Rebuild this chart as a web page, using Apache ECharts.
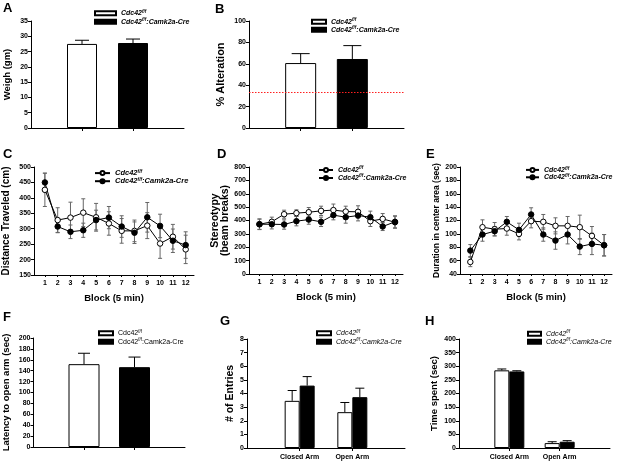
<!DOCTYPE html>
<html>
<head>
<meta charset="utf-8">
<script src="https://cdn.jsdelivr.net/npm/echarts@6/dist/echarts.min.js"></script>
<style>html,body{margin:0;padding:0;background:#fff}#c{width:617px;height:463px}</style>
</head>
<body>
<div id="c"></div>
<script>
// ---------------- DATA ----------------
const groups = ['Cdc42f/f', 'Cdc42f/f:Camk2a-Cre'];
// A: body weight
const weightMean = [27.5, 27.8];
const weightSem = [1.2, 1.3];
const weightTicks = [0, 35, 5];
// B: spontaneous alternation
const alterationMean = [60.7, 64.5];
const alterationSem = [8.8, 12.5];
const alterationTicks = [0, 100, 20];
const chanceLevel = 33.3;
// C-E: open field by block
const blocks = [1, 2, 3, 4, 5, 6, 7, 8, 9, 10, 11, 12];
const distanceWT = [426, 328, 336, 352, 337, 317, 293, 293, 310, 252, 274, 233];
const distanceWTSem = [54, 40, 50, 45, 45, 38, 40, 35, 42, 48, 40, 46];
const distanceKO = [450, 307, 290, 295, 328, 336, 307, 287, 337, 309, 261, 247];
const distanceKOSem = [30, 20, 22, 23, 32, 36, 35, 35, 48, 38, 38, 43];
const distanceTicks = [150, 500, 50];
const stereoWT = [372, 390, 447, 455, 462, 472, 478, 467, 465, 395, 412, 387];
const stereoWTSem = [38, 35, 30, 25, 35, 35, 45, 40, 45, 40, 40, 45];
const stereoKO = [372, 372, 370, 395, 407, 390, 440, 425, 437, 425, 355, 390];
const stereoKOSem = [40, 35, 35, 35, 35, 35, 35, 45, 40, 45, 30, 45];
const stereoTicks = [0, 800, 100];
const centerWT = [58, 110, 107, 108, 100, 119, 118, 112, 112, 110, 97, 83];
const centerWTSem = [7, 11, 10, 10, 9, 10, 11, 12, 14, 18, 14, 16];
const centerKO = [75, 99, 104, 118, 106, 129, 99, 90, 99, 81, 85, 83];
const centerKOSem = [9, 10, 7, 8, 10, 10, 10, 13, 14, 12, 16, 16];
const centerTicks = [40, 200, 20];
// F: latency to open arm
const latencyMean = [152, 146.5];
const latencySem = [20, 18.5];
const latencyTicks = [0, 200, 20];
// G, H: elevated plus maze
const arms = ['Closed Arm', 'Open Arm'];
const entriesWT = [3.46, 2.63];
const entriesWTSem = [0.76, 0.71];
const entriesKO = [4.58, 3.73];
const entriesKOSem = [0.66, 0.66];
const entriesTicks = [0, 8, 1];
const timeWT = [285, 18];
const timeWTSem = [5, 5];
const timeKO = [281, 23];
const timeKOSem = [2.5, 4];
const timeTicks = [0, 400, 50];

// ---------------- HELPERS ----------------
const FONT = "'Liberation Sans', Arial, sans-serif";
const BLACK = '#000';

const grids = [
  {left: 31, top: 21, width: 153, height: 107},   // A
  {left: 249, top: 21, width: 155, height: 107},  // B
  {left: 30, top: 167, width: 164, height: 108},  // C
  {left: 249, top: 167, width: 154, height: 107}, // D
  {left: 460, top: 167, width: 152, height: 107}, // E
  {left: 32, top: 338, width: 153, height: 109},  // F
  {left: 247, top: 339, width: 158, height: 109}, // G
  {left: 459, top: 339, width: 151, height: 109}  // H
];

function yAxis(gi, t, name, gap, size, lh) {
  return {
    type: 'value', gridIndex: gi, min: t[0], max: t[1], interval: t[2],
    name: name, nameLocation: 'middle', nameGap: gap, nameRotate: 90,
    nameTextStyle: {fontFamily: FONT, fontWeight: 'bold', fontSize: size, color: BLACK, lineHeight: lh || size + 1},
    axisLine: {show: true, lineStyle: {color: BLACK, width: 1}},
    axisTick: {show: true, length: 3, lineStyle: {color: BLACK}},
    splitLine: {show: false},
    axisLabel: {fontFamily: FONT, fontWeight: 'bold', fontSize: 7, color: BLACK, margin: 3}
  };
}
function catAxis(gi, cats, showLabels) {
  return {
    type: 'category', gridIndex: gi, data: [''].concat(cats, ['']), boundaryGap: false,
    axisLine: {show: true, onZero: false, lineStyle: {color: BLACK, width: 1}},
    axisTick: {show: true, length: 3, interval: function (i) { return i > 0 && i <= cats.length; }, lineStyle: {color: BLACK}},
    axisLabel: {show: showLabels, interval: 0, fontFamily: FONT, fontWeight: 'bold', fontSize: 7, color: BLACK, margin: 6},
    splitLine: {show: false}
  };
}
function blockAxis(gi) {
  return {
    type: 'value', gridIndex: gi, min: 0.15, max: 12.65,
    name: 'Block (5 min)', nameLocation: 'middle', nameGap: 18,
    nameTextStyle: {fontFamily: FONT, fontWeight: 'bold', fontSize: 9.5, color: BLACK},
    axisLine: {show: true, onZero: false, lineStyle: {color: BLACK, width: 1}},
    axisTick: {show: true, length: 2, customValues: blocks, lineStyle: {color: BLACK}},
    axisLabel: {customValues: blocks, fontFamily: FONT, fontWeight: 'bold', fontSize: 7, color: BLACK, margin: 5},
    splitLine: {show: false}
  };
}
function slot(values) { // values placed at category slots 1..n, blanks at ends
  const out = ['-'];
  values.forEach(function (v) { out.push(v); });
  out.push('-');
  return out;
}
function single(v, idx) { const out = ['-', '-', '-', '-']; out[idx] = v; return out; }

function bar(gi, name, data, fill, width, gap, extra) {
  return Object.assign({
    type: 'bar', name: name, xAxisIndex: gi, yAxisIndex: gi, data: data,
    barWidth: width, barGap: gap, silent: true, z: 3,
    itemStyle: {color: fill, borderColor: BLACK, borderWidth: 1}
  }, extra || {});
}
function errBars(gi, points, offset, cap, color, both) {
  return {
    type: 'custom', xAxisIndex: gi, yAxisIndex: gi, data: points, silent: true, z: both ? 2 : 4,
    encode: {x: 0, y: [1, 2]},
    renderItem: function (params, api) {
      const x = api.value(0);
      const a = api.coord([x, api.value(1)]);
      const b = api.coord([x, api.value(2)]);
      const cx = a[0] + offset;
      const st = {stroke: color, lineWidth: 1};
      const ch = [
        {type: 'line', shape: {x1: cx, y1: a[1], x2: cx, y2: b[1]}, style: st},
        {type: 'line', shape: {x1: cx - cap, y1: b[1], x2: cx + cap, y2: b[1]}, style: st}
      ];
      if (both) ch.push({type: 'line', shape: {x1: cx - cap, y1: a[1], x2: cx + cap, y2: a[1]}, style: st});
      return {type: 'group', children: ch};
    }
  };
}
function upErr(means, sems, startIdx) {
  return means.map(function (m, i) { return [startIdx + i, m, m + sems[i]]; });
}
function line(gi, name, vals, fill) {
  return {
    type: 'line', name: name, xAxisIndex: gi, yAxisIndex: gi, silent: true, z: 5,
    data: blocks.map(function (b, i) { return [b, vals[i]]; }),
    symbol: 'circle', symbolSize: 5.5, showSymbol: true,
    lineStyle: {color: BLACK, width: 1},
    itemStyle: {color: fill, borderColor: BLACK, borderWidth: 1}
  };
}
function lineErr(gi, vals, sems) {
  return errBars(gi, blocks.map(function (b, i) { return [b, vals[i] - sems[i], vals[i] + sems[i]]; }), 0, 2, '#666', true);
}

const legendText = {
  wt: '{a|Cdc42}{s|f/f}',
  ko: '{a|Cdc42}{s|f/f}{a|:Camk2a-Cre}'
};
function legend(p, left, top, w, h, gap, size, weight, style, lh, icon) {
  const base = {fontFamily: FONT, fontWeight: weight, fontStyle: style, color: BLACK};
  const l = {
    data: [p + '|wt', p + '|ko'], left: left, top: top, orient: 'vertical',
    itemWidth: w, itemHeight: h, itemGap: gap, padding: 0, selectedMode: false,
    formatter: function (n) { return legendText[n.split('|')[1]]; },
    textStyle: {
      fontFamily: FONT, fontSize: size, fontWeight: weight, fontStyle: style, color: BLACK,
      rich: {
        a: Object.assign({fontSize: size, lineHeight: lh}, base),
        s: Object.assign({fontSize: size * 0.65, lineHeight: size * 0.75, verticalAlign: 'top'}, base)
      }
    }
  };
  if (icon) l.icon = icon;
  return l;
}

// ---------------- OPTION ----------------
const letters = [['A', 3, 1.5], ['B', 215, 2.5], ['C', 3, 147.5], ['D', 217, 147.5],
                 ['E', 426, 147.5], ['F', 3, 310.5], ['G', 220, 314.5], ['H', 425, 314.5]];

const option = {
  animation: false,
  backgroundColor: '#fff',
  grid: grids,
  xAxis: [
    catAxis(0, groups, false),
    catAxis(1, groups, false),
    blockAxis(2),
    blockAxis(3),
    blockAxis(4),
    catAxis(5, groups, false),
    catAxis(6, arms, true),
    catAxis(7, arms, true)
  ],
  yAxis: [
    yAxis(0, weightTicks, 'Weigh (gm)', 18, 9.5),
    yAxis(1, alterationTicks, '% Alteration', 22, 11),
    yAxis(2, distanceTicks, 'Distance Traveled (cm)', 22, 10),
    yAxis(3, stereoTicks, 'Stereotypy\n(beam breaks)', 17.5, 10.5, 10),
    yAxis(4, centerTicks, 'Duration in center area (sec)', 18, 8.5),
    yAxis(5, latencyTicks, 'Latency to open arm (sec)', 22, 9.5),
    yAxis(6, entriesTicks, '# of Entries', 11, 10.5),
    yAxis(7, timeTicks, 'Time spent (sec)', 19, 9.5)
  ],
  legend: [
    legend('A', 94, 8.8, 21, 4, 0.4, 7, 'bold', 'italic', 9, 'rect'),
    legend('B', 311, 17.2, 14, 4, 0, 7, 'bold', 'italic', 9, 'rect'),
    legend('C', 94, 169, 15, 5, 0, 7.5, 'bold', 'italic', 8.2),
    legend('D', 318, 165.5, 14, 5, 0, 7, 'bold', 'italic', 9),
    legend('E', 525, 166, 13, 5, 0, 7, 'bold', 'italic', 7.8),
    legend('F', 98, 328.8, 14, 4, 0.4, 7, 'normal', 'normal', 9, 'rect'),
    legend('G', 316, 328.8, 14, 4, 0.4, 7, 'normal', 'italic', 9, 'rect'),
    legend('H', 527, 329.2, 13, 4, 0, 7, 'normal', 'italic', 9, 'rect')
  ],
  graphic: letters.map(function (l) {
    return {type: 'text', left: l[1], top: l[2], silent: true,
      style: {text: l[0], fill: BLACK, font: 'bold 13px ' + FONT}};
  }),
  series: [
    // A
    bar(0, 'A|wt', single(weightMean[0], 1), '#fff', 30, '-100%'),
    bar(0, 'A|ko', single(weightMean[1], 2), '#000', 30, '-100%'),
    errBars(0, upErr([weightMean[0]], [weightSem[0]], 1), 0, 7, BLACK, false),
    errBars(0, upErr([weightMean[1]], [weightSem[1]], 2), 0, 7, BLACK, false),
    // B
    bar(1, 'B|wt', single(alterationMean[0], 1), '#fff', 31, '-100%', {
      markLine: {silent: true, symbol: ['none', 'none'], label: {show: false},
        lineStyle: {color: '#ff2020', type: [1.5, 1.5], width: 1, opacity: 1}, data: [{yAxis: chanceLevel}]}
    }),
    bar(1, 'B|ko', single(alterationMean[1], 2), '#000', 31, '-100%'),
    errBars(1, upErr([alterationMean[0]], [alterationSem[0]], 1), 0, 9, BLACK, false),
    errBars(1, upErr([alterationMean[1]], [alterationSem[1]], 2), 0, 9, BLACK, false),
    // C
    lineErr(2, distanceWT, distanceWTSem),
    lineErr(2, distanceKO, distanceKOSem),
    line(2, 'C|wt', distanceWT, '#fff'),
    line(2, 'C|ko', distanceKO, '#000'),
    // D
    lineErr(3, stereoWT, stereoWTSem),
    lineErr(3, stereoKO, stereoKOSem),
    line(3, 'D|wt', stereoWT, '#fff'),
    line(3, 'D|ko', stereoKO, '#000'),
    // E
    lineErr(4, centerWT, centerWTSem),
    lineErr(4, centerKO, centerKOSem),
    line(4, 'E|wt', centerWT, '#fff'),
    line(4, 'E|ko', centerKO, '#000'),
    // F
    bar(5, 'F|wt', single(latencyMean[0], 1), '#fff', 31, '-100%'),
    bar(5, 'F|ko', single(latencyMean[1], 2), '#000', 31, '-100%'),
    errBars(5, upErr([latencyMean[0]], [latencySem[0]], 1), 0, 6, BLACK, false),
    errBars(5, upErr([latencyMean[1]], [latencySem[1]], 2), 0, 6, BLACK, false),
    // G
    bar(6, 'G|wt', slot(entriesWT), '#fff', 15, '0%'),
    bar(6, 'G|ko', slot(entriesKO), '#000', 15, '0%'),
    errBars(6, upErr(entriesWT, entriesWTSem, 1), -7.5, 4.5, BLACK, false),
    errBars(6, upErr(entriesKO, entriesKOSem, 1), 7.5, 4.5, BLACK, false),
    // H
    bar(7, 'H|wt', slot(timeWT), '#fff', 15, '0%'),
    bar(7, 'H|ko', slot(timeKO), '#000', 15, '0%'),
    errBars(7, upErr(timeWT, timeWTSem, 1), -7.5, 4.5, BLACK, false),
    errBars(7, upErr(timeKO, timeKOSem, 1), 7.5, 4.5, BLACK, false)
  ]
};

const chart = echarts.init(document.getElementById('c'), null, {renderer: 'canvas'});
chart.setOption(option);
</script>
</body>
</html>
